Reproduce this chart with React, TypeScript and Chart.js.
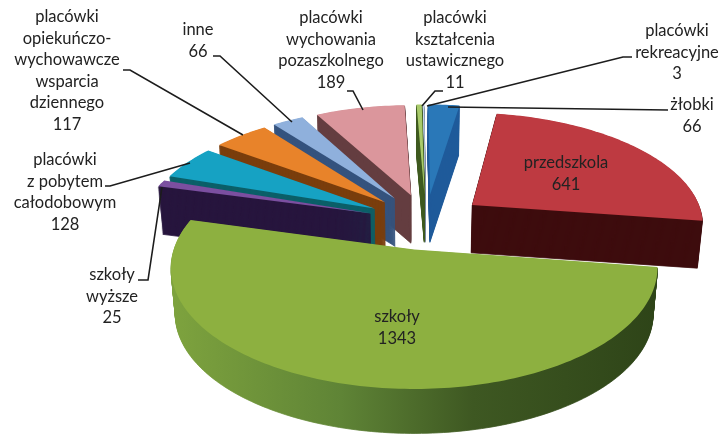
import React, { useEffect, useRef } from "react";
import { Chart, PieController, ArcElement } from "chart.js";

Chart.register(PieController, ArcElement);

const categories: string[][] = [
  ["żłobki"],
  ["przedszkola"],
  ["szkoły"],
  ["szkoły", "wyższe"],
  ["placówki", "z pobytem", "całodobowym"],
  ["placówki", "opiekuńczo-", "wychowawcze", "wsparcia", "dziennego"],
  ["inne"],
  ["placówki", "wychowania", "pozaszkolnego"],
  ["placówki", "kształcenia", "ustawicznego"],
  ["placówki", "rekreacyjne"],
];
const values = [66, 641, 1343, 25, 128, 117, 66, 189, 11, 3];
const topColors = ["#2A78B8", "#BE3A41", "#8DB040", "#7B4FA0", "#16A2C3", "#E8832A", "#8FB0DC", "#DB969C", "#A9CB6B", "#C5D5EC"];
const sideColors = ["#1F5B9A", "#3E0C0E", "", "#27153D", "#0B5F68", "#7A3E0C", "#35537E", "#643E40", "#3F5A20", "#7C8AA0"];
const greenSideStops: [number, string][] = [[0, "#7EA33E"], [0.35, "#5F8436"], [0.62, "#3E5822"], [1, "#2E4418"]];

// label layout: centre x, first line y
const labelX = [692, 566, 397, 112, 65, 67, 198, 331, 455, 677];
const labelY = [105, 163, 317, 275, 160, 17, 30, 18, 18, 31];
const lineStep = 21.5;
const leaders: [number, number][][] = [
  [[668, 110], [448, 107]],
  [],
  [],
  [[138, 280], [148, 280], [162, 187]],
  [[105, 186], [110, 186], [190, 163]],
  [[123, 70], [130, 70], [243, 135]],
  [[213, 56], [220, 56], [292, 122]],
  [[347, 91], [353, 91], [363, 110]],
  [[443, 91], [435, 91], [422, 106]],
  [[632, 57], [623, 57], [427, 106]],
];

// camera of the tilted pie
const cam = { cx: 414, cy: 248, a: 240, b: 118, p: 0.15, ou: 0.052, ov: -0.235, depth: 47, shrink: 0.018 };

function project(u: number, v: number, d: number): [number, number] {
  const U = u + cam.ou;
  const V = v + cam.ov;
  const s = 1 / (1 - cam.p * V);
  const k = 1 - cam.shrink * (d / cam.depth);
  return [cam.cx + cam.a * U * s * k, cam.cy + cam.b * V * s * k + d];
}

function tracePath(ctx: CanvasRenderingContext2D, arc: any, d: number) {
  const R = arc.outerRadius;
  const mid = (arc.startAngle + arc.endAngle) / 2;
  const off = (arc.options.offset || 0) / R;
  const ou = Math.cos(mid) * off;
  const ov = Math.sin(mid) * off;
  const steps = Math.max(2, Math.ceil((arc.endAngle - arc.startAngle) / 0.02));
  ctx.beginPath();
  const t = project(ou, ov, d);
  ctx.moveTo(t[0], t[1]);
  for (let i = 0; i <= steps; i++) {
    const ang = arc.startAngle + ((arc.endAngle - arc.startAngle) * i) / steps;
    const q = project(ou + Math.cos(ang), ov + Math.sin(ang), d);
    ctx.lineTo(q[0], q[1]);
  }
  ctx.closePath();
}

const pie3d = {
  id: "pie3d",
  beforeDatasetsDraw(chart: any) {
    const ctx: CanvasRenderingContext2D = chart.ctx;
    const arcs: any[] = chart.getDatasetMeta(0).data;
    const order = arcs
      .map((arc, i) => ({ i, arc, key: Math.sin((arc.startAngle + arc.endAngle) / 2) }))
      .sort((x, y) => x.key - y.key);
    const [gx0] = project(-1.05 - cam.ou, 0, 0);
    const [gx1] = project(1.05 - cam.ou, 0, 0);
    const green = ctx.createLinearGradient(gx0, 0, gx1, 0);
    greenSideStops.forEach(([o, c]) => green.addColorStop(o, c));
    ctx.save();
    ctx.lineJoin = "round";
    for (const { i, arc } of order) {
      const side = sideColors[i] || green;
      ctx.fillStyle = side;
      ctx.strokeStyle = side;
      ctx.lineWidth = 0.8;
      for (let d = cam.depth; d > 0; d -= 1) {
        tracePath(ctx, arc, d);
        ctx.fill();
        ctx.stroke();
      }
      tracePath(ctx, arc, 0);
      ctx.fillStyle = arc.options.backgroundColor;
      ctx.fill();
    }
    ctx.restore();
    return false;
  },
  afterDraw(chart: any) {
    const ctx: CanvasRenderingContext2D = chart.ctx;
    ctx.save();
    ctx.strokeStyle = "#1c1c1c";
    ctx.lineWidth = 1.6;
    leaders.forEach((pts) => {
      if (!pts.length) return;
      ctx.beginPath();
      pts.forEach(([x, y], k) => (k ? ctx.lineTo(x, y) : ctx.moveTo(x, y)));
      ctx.stroke();
    });
    ctx.fillStyle = "#222222";
    ctx.font = '16.5px Lato, "Open Sans", sans-serif';
    ctx.textAlign = "center";
    ctx.textBaseline = "middle";
    categories.forEach((lines, i) => {
      [...lines, String(values[i])].forEach((line, k) => {
        ctx.fillText(line, labelX[i], labelY[i] + k * lineStep);
      });
    });
    ctx.restore();
  },
};

export default function App() {
  const ref = useRef<HTMLCanvasElement>(null);
  useEffect(() => {
    document.body.style.margin = "0";
    document.body.style.background = "#ffffff";
    const chart = new Chart(ref.current!, {
      type: "pie",
      data: {
        labels: categories.map((c) => c.join(" ")),
        datasets: [{ data: values, backgroundColor: topColors, borderWidth: 0, offset: 49 }],
      },
      options: {
        responsive: false,
        animation: false,
        rotation: 0,
        layout: { padding: 0 },
        plugins: { legend: { display: false }, tooltip: { enabled: false } },
      },
      plugins: [pie3d],
    } as any);
    return () => chart.destroy();
  }, []);
  return (
    <div style={{ width: 721, height: 436, overflow: "hidden" }}>
      <canvas ref={ref} width={721} height={436} style={{ display: "block" }} />
    </div>
  );
}
